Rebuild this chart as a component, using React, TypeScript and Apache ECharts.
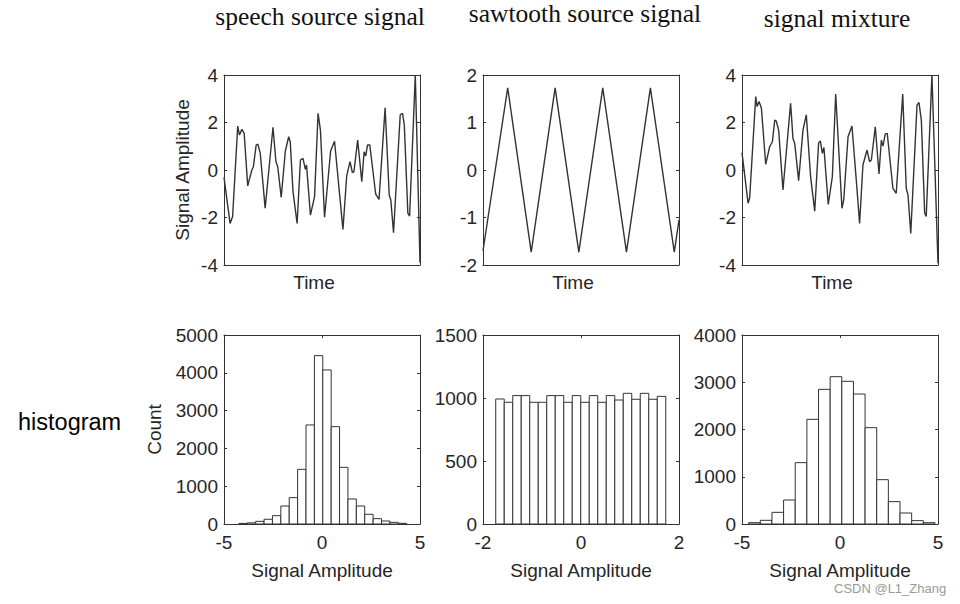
import React, { useEffect, useRef } from "react";
import * as echarts from "echarts";

// ---- Top row: time signals (time in % of window, amplitude) ----
const speechTime = [0, 3.1, 4.4, 7.0, 7.9, 9.1, 10.3, 12.1, 14.2, 15.0, 16.4, 17.3, 18.5, 21.0, 25.0, 26.5, 27.4, 29.2, 31.3, 33.0, 33.8, 35.2, 37.3, 39.0, 40.3, 41.5, 42.1, 44.1, 46.2, 48.0, 49.2, 51.3, 54.4, 56.4, 58.6, 60.7, 62.6, 64.3, 65.5, 66.3, 68.2, 70.3, 71.5, 72.3, 73.2, 74.4, 77.4, 79.1, 82.2, 84.3, 85.1, 86.5, 89.9, 91.1, 92.0, 93.8, 94.7, 97.6, 100];
const speechAmp = [-0.31, -2.25, -1.96, 1.85, 1.47, 1.71, 1.54, -0.67, 0.0, 0.14, 1.05, 1.09, 0.7, -1.61, 1.8, 0.35, 0.14, -1.15, 0.8, 1.4, 1.19, -0.91, -2.25, 0.42, 0.49, 0.03, 0.21, -1.9, -1.12, 2.39, 1.68, -1.99, 0.8, 1.21, -0.7, -2.5, -0.25, 0.35, -0.11, -0.07, 1.26, -0.49, 0.77, 0.59, 1.05, 1.05, -1.02, -1.24, 2.62, -1.05, -1.26, -2.64, 2.32, 2.39, 1.89, -1.82, -1.94, 4.0, -3.9];

const sawTime = [0, 12.6, 24.6, 36.8, 48.9, 61.1, 73.2, 85.4, 97.6, 100];
const sawAmp = [-1.7, 1.73, -1.73, 1.73, -1.73, 1.73, -1.73, 1.73, -1.73, -1.05];

const mixTime = [0, 3.1, 3.9, 7.0, 7.7, 8.7, 9.9, 12.1, 14.1, 15.5, 16.7, 17.5, 18.7, 20.9, 24.8, 26.0, 26.9, 28.9, 31.1, 32.8, 35.0, 37.1, 39.1, 40.0, 41.0, 41.8, 44.0, 46.1, 47.8, 51.0, 51.9, 54.1, 56.1, 58.3, 60.0, 61.7, 63.8, 65.1, 66.0, 68.0, 69.9, 71.1, 71.9, 73.1, 74.1, 77.0, 78.7, 82.0, 83.8, 84.7, 86.1, 89.3, 90.3, 91.5, 93.2, 94.0, 96.9, 100];
const mixAmp = [0.73, -1.4, -1.19, 3.09, 2.67, 2.88, 2.6, 0.24, 0.98, 1.19, 2.1, 2.06, 1.68, -0.84, 2.81, 1.33, 1.12, -0.45, 1.68, 2.32, -0.28, -1.73, 1.15, 1.22, 0.7, 0.95, -1.45, -0.28, 3.2, -1.61, -1.26, 1.4, 1.85, -0.42, -2.25, 0.21, 0.84, 0.35, 0.42, 1.82, -0.17, 1.26, 1.01, 1.52, 1.54, -0.77, -0.98, 3.2, -0.77, -1.05, -2.67, 2.74, 2.84, 2.1, -1.82, -1.96, 4.0, -3.93];

// ---- Bottom row: histograms (first bin edge, bin width, counts) ----
const speechBinStart = -4.24;
const speechBinWidth = 0.428;
const speechCounts = [15, 30, 70, 125, 220, 476, 697, 1446, 2620, 4454, 4075, 2575, 1500, 661, 476, 256, 141, 79, 44, 18];

const sawBinStart = -1.74;
const sawBinWidth = 0.1735;
const sawCounts = [992, 966, 1019, 1019, 966, 966, 1019, 1019, 966, 1019, 966, 1019, 966, 1019, 984, 1037, 990, 1037, 990, 1013];

const mixBinStart = -4.66;
const mixBinWidth = 0.594;
const mixCounts = [28, 78, 247, 508, 1298, 2215, 2850, 3118, 3020, 2751, 2039, 938, 473, 233, 71, 28];

// ---- Labels / axis ranges ----
const titles = ["speech source signal", "sawtooth source signal", "signal mixture"];
const rowLabel = "histogram";
const timeName = "Time";
const ampName = "Signal Amplitude";
const countName = "Count";
const watermark = "CSDN @L1_Zhang";

const topYRanges = [[-4, 4, 2], [-2, 2, 1], [-4, 4, 2]];
const histXRanges = [[-5, 5, 5], [-2, 2, 2], [-5, 5, 5]];
const histYRanges = [[0, 5000, 1000], [0, 1500, 500], [0, 4000, 1000]];

const SANS = "'Liberation Sans', Arial, Helvetica, sans-serif";
const SERIF = "'Liberation Serif', 'Times New Roman', Times, serif";
const INK = "#262626";
const LINE = "#333333";

function zip(a: number[], b: number[]) {
  return a.map((v, i) => [v, b[i]]);
}
function bins(start: number, width: number, counts: number[]) {
  return counts.map((c, i) => [start + i * width, start + (i + 1) * width, c]);
}

export default function App() {
  const ref = useRef<HTMLDivElement>(null);
  useEffect(() => {
    if (!ref.current) return;
    const chart = echarts.init(ref.current, null, { renderer: "svg" });
    const lefts = [224, 483, 742];
    const grids: any[] = [];
    lefts.forEach((l) => grids.push({ left: l, top: 75, width: 196, height: 190 }));
    lefts.forEach((l) => grids.push({ left: l, top: 335, width: 196, height: 189 }));

    const axisLine = { show: true, onZero: false, lineStyle: { color: LINE, width: 1 } };
    const tickIn = { show: true, inside: true, length: 3, lineStyle: { color: LINE, width: 1 } };
    const plain = (v: number) => String(v);
    const labelStyle = { color: INK, fontSize: 19, fontFamily: SANS, formatter: plain };
    const nameStyle = { color: INK, fontSize: 19, fontFamily: SANS };

    const xAxis: any[] = [];
    const yAxis: any[] = [];
    // top row
    for (let i = 0; i < 3; i++) {
      xAxis.push({
        type: "value", gridIndex: i, min: 0, max: 100, position: "bottom",
        axisLine, axisTick: { show: false }, axisLabel: { show: false }, splitLine: { show: false },
        name: timeName, nameLocation: "middle", nameGap: 8,
        nameTextStyle: { ...nameStyle, padding: [0, 16, 0, 0] },
      });
      xAxis.push({
        type: "value", gridIndex: i, min: 0, max: 100, position: "top",
        axisLine, axisTick: { show: false }, axisLabel: { show: false }, splitLine: { show: false },
      });
      const [mn, mx, iv] = topYRanges[i];
      yAxis.push({
        type: "value", gridIndex: i, min: mn, max: mx, interval: iv, position: "left",
        axisLine, axisTick: tickIn, axisLabel: { ...labelStyle, margin: 6 }, splitLine: { show: false },
        name: i === 0 ? ampName : "", nameLocation: "middle", nameGap: 32, nameTextStyle: nameStyle,
      });
      yAxis.push({
        type: "value", gridIndex: i, min: mn, max: mx, interval: iv, position: "right",
        axisLine, axisTick: tickIn, axisLabel: { show: false }, splitLine: { show: false },
      });
    }
    // bottom row
    for (let i = 0; i < 3; i++) {
      const g = i + 3;
      const [xmn, xmx, xiv] = histXRanges[i];
      xAxis.push({
        type: "value", gridIndex: g, min: xmn, max: xmx, interval: xiv, position: "bottom",
        axisLine, axisTick: tickIn, axisLabel: { ...labelStyle, margin: 9 }, splitLine: { show: false },
        name: ampName, nameLocation: "middle", nameGap: 37, nameTextStyle: nameStyle,
      });
      xAxis.push({
        type: "value", gridIndex: g, min: xmn, max: xmx, interval: xiv, position: "top",
        axisLine, axisTick: tickIn, axisLabel: { show: false }, splitLine: { show: false },
      });
      const [ymn, ymx, yiv] = histYRanges[i];
      yAxis.push({
        type: "value", gridIndex: g, min: ymn, max: ymx, interval: yiv, position: "left",
        axisLine, axisTick: tickIn, axisLabel: { ...labelStyle, margin: 6 }, splitLine: { show: false },
        name: i === 0 ? countName : "", nameLocation: "middle", nameGap: 60, nameTextStyle: nameStyle,
      });
      yAxis.push({
        type: "value", gridIndex: g, min: ymn, max: ymx, interval: yiv, position: "right",
        axisLine, axisTick: tickIn, axisLabel: { show: false }, splitLine: { show: false },
      });
    }

    const lineData = [zip(speechTime, speechAmp), zip(sawTime, sawAmp), zip(mixTime, mixAmp)];
    const histData = [
      bins(speechBinStart, speechBinWidth, speechCounts),
      bins(sawBinStart, sawBinWidth, sawCounts),
      bins(mixBinStart, mixBinWidth, mixCounts),
    ];

    const series: any[] = [];
    for (let i = 0; i < 3; i++) {
      series.push({
        type: "line", xAxisIndex: i * 2, yAxisIndex: i * 2, data: lineData[i],
        showSymbol: false, symbol: "none", clip: true,
        lineStyle: { color: "#333333", width: 1.4 },
      });
    }
    for (let i = 0; i < 3; i++) {
      series.push({
        type: "custom", xAxisIndex: 6 + i * 2, yAxisIndex: 6 + i * 2, data: histData[i],
        encode: { x: [0, 1], y: 2 },
        renderItem: (params: any, api: any) => {
          const p0 = api.coord([api.value(0), 0]);
          const p1 = api.coord([api.value(1), api.value(2)]);
          return {
            type: "rect",
            shape: { x: p0[0], y: p1[1], width: p1[0] - p0[0], height: p0[1] - p1[1] },
            style: { fill: "#ffffff", stroke: "#333333", lineWidth: 1 },
          };
        },
      });
    }

    const titleX = [320, 585, 837];
    const titleY = [16, 13, 18];
    const graphic: any[] = titles.map((t, i) => ({
      type: "text", x: titleX[i], y: titleY[i],
      style: { text: t, font: `25.5px ${SERIF}`, fill: "#111", textAlign: "center", textVerticalAlign: "middle" },
    }));
    graphic.push({
      type: "text", x: 18, y: 422,
      style: { text: rowLabel, font: `23.5px ${SANS}`, fill: "#000", textAlign: "left", textVerticalAlign: "middle" },
    });
    graphic.push({
      type: "text", x: 834, y: 588,
      style: { text: watermark, font: `13px ${SANS}`, fill: "#9a9a9a", textAlign: "left", textVerticalAlign: "middle" },
    });

    chart.setOption({
      animation: false,
      backgroundColor: "#ffffff",
      grid: grids,
      xAxis,
      yAxis,
      series,
      graphic,
    });
    return () => chart.dispose();
  }, []);
  return (
    <div
      ref={ref}
      style={{ position: "absolute", left: 0, top: 0, width: 960, height: 604, background: "#fff" }}
    />
  );
}
